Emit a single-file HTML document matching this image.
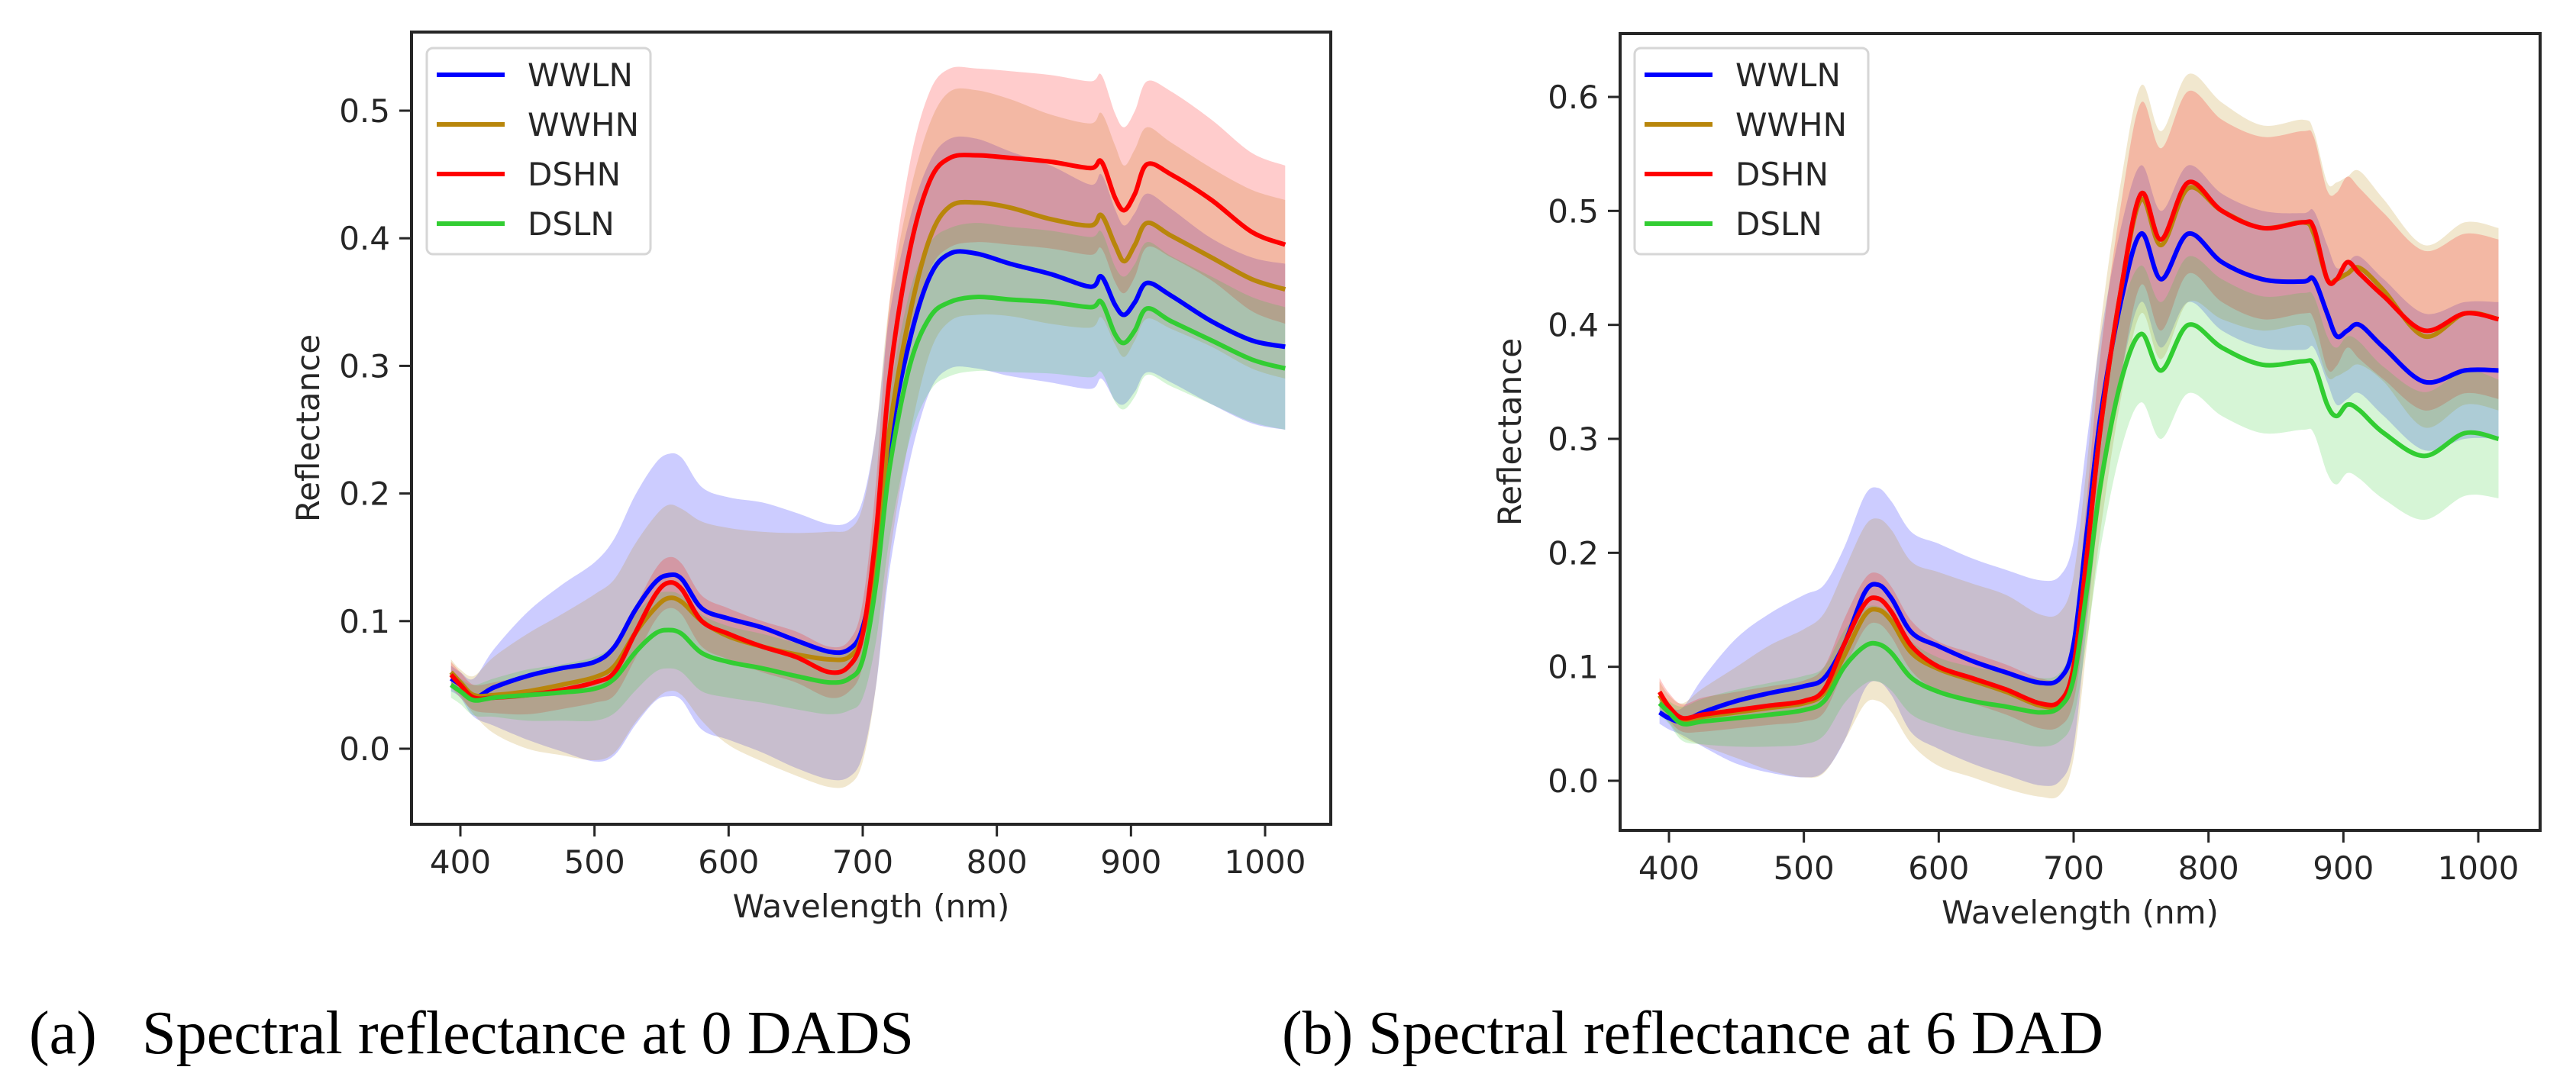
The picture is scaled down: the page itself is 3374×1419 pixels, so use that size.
<!DOCTYPE html>
<html><head><meta charset="utf-8">
<style>
body{margin:0;background:#fff;}
svg{display:block;}
text{font-family:"DejaVu Sans","Liberation Sans",sans-serif;fill:#262626;}
.cap{font-family:"Liberation Serif",serif;fill:#000;font-size:80px;}
</style></head>
<body>
<svg id="fig" width="3374" height="1419" viewBox="0 0 3374 1419" xmlns="http://www.w3.org/2000/svg">
<text class="cap" x="38" y="1380">(a)</text>
<text class="cap" x="186" y="1380" textLength="1011" lengthAdjust="spacingAndGlyphs">Spectral reflectance at 0 DADS</text>
<text class="cap" x="1679" y="1380" textLength="1076" lengthAdjust="spacingAndGlyphs">(b) Spectral reflectance at 6 DAD</text>
</svg>
<script>
const wl=[393,400,410,425,450,475,500,515,530,545,555,565,580,600,625,650,675,690,700,710,720,735,750,765,785,810,840,870,878,888,895,903,912,930,960,990,1015];
const seriesNames=["WWLN","WWHN","DSHN","DSLN"];
// Chart A (0 DADS)
const aMeanWWLN=[.055,.05,.04,.048,.057,.063,.068,.08,.108,.13,.136,.133,.11,.102,.095,.085,.076,.078,.095,.15,.24,.32,.37,.388,.388,.38,.372,.362,.37,.348,.34,.35,.365,.355,.335,.32,.315];
const aSdWWLN=[.01,.01,.015,.03,.05,.065,.078,.085,.09,.093,.095,.095,.095,.095,.098,.1,.1,.1,.1,.1,.1,.095,.09,.09,.09,.088,.085,.08,.08,.075,.07,.07,.07,.068,.065,.065,.065];
const aMeanWWHN=[.06,.052,.042,.042,.045,.05,.056,.065,.09,.11,.118,.115,.1,.088,.08,.074,.07,.072,.09,.15,.25,.34,.4,.425,.428,.424,.415,.41,.418,.395,.382,.395,.412,.402,.385,.368,.36];
const aSdWWHN=[.01,.01,.015,.03,.045,.055,.065,.068,.07,.072,.073,.073,.078,.085,.09,.095,.1,.1,.1,.1,.1,.095,.09,.09,.088,.085,.082,.08,.08,.078,.075,.075,.075,.073,.07,.07,.07];
const aMeanDSHN=[.058,.05,.04,.04,.042,.046,.052,.06,.09,.12,.13,.125,.1,.09,.08,.072,.06,.065,.09,.17,.29,.39,.445,.463,.465,.463,.46,.455,.46,.432,.422,.435,.458,.45,.43,.405,.395];
const aSdDSHN=[.01,.01,.01,.012,.015,.015,.016,.018,.02,.02,.02,.02,.02,.02,.02,.02,.02,.02,.025,.04,.06,.068,.07,.07,.068,.068,.068,.068,.068,.066,.065,.065,.065,.065,.063,.062,.062];
const aMeanDSLN=[.05,.045,.038,.04,.042,.044,.047,.055,.075,.09,.093,.09,.075,.068,.063,.057,.052,.055,.07,.13,.22,.3,.338,.35,.354,.352,.35,.346,.35,.325,.318,.328,.345,.335,.32,.305,.298];
const aSdDSLN=[.01,.01,.012,.015,.02,.022,.025,.027,.03,.03,.03,.03,.03,.028,.027,.026,.025,.025,.03,.045,.055,.058,.058,.058,.058,.057,.056,.055,.055,.053,.052,.052,.052,.051,.05,.049,.048];
// Chart B (6 DAD)
const bMeanWWLN=[.06,.055,.052,.06,.07,.077,.083,.09,.12,.165,.172,.16,.13,.118,.105,.095,.086,.09,.12,.22,.32,.42,.48,.44,.48,.455,.44,.438,.44,.41,.39,.395,.4,.38,.35,.36,.36];
const bSdWWLN=[.01,.01,.012,.03,.055,.07,.08,.082,.085,.085,.085,.085,.088,.09,.09,.09,.09,.09,.09,.08,.07,.065,.06,.06,.06,.06,.06,.06,.06,.06,.06,.06,.06,.06,.06,.06,.06];
const bMeanWWHN=[.075,.063,.053,.056,.06,.064,.068,.077,.11,.145,.15,.14,.112,.098,.088,.078,.066,.068,.1,.2,.31,.43,.51,.47,.52,.5,.485,.49,.48,.44,.44,.445,.45,.43,.39,.41,.405];
const bSdWWHN=[.012,.012,.015,.025,.04,.055,.065,.07,.075,.078,.08,.08,.08,.085,.085,.085,.08,.08,.08,.08,.09,.095,.1,.1,.1,.095,.09,.09,.09,.085,.085,.085,.085,.08,.08,.08,.08];
const bMeanDSHN=[.078,.065,.055,.058,.062,.066,.07,.08,.12,.155,.16,.148,.118,.1,.09,.08,.068,.07,.1,.2,.31,.43,.515,.475,.525,.5,.485,.49,.485,.44,.44,.455,.445,.425,.395,.41,.405];
const bSdDSHN=[.012,.012,.012,.015,.016,.017,.018,.02,.022,.022,.022,.022,.022,.022,.022,.022,.022,.022,.03,.05,.065,.075,.08,.08,.08,.08,.08,.08,.08,.078,.076,.075,.075,.073,.07,.07,.07];
const bMeanDSLN=[.068,.06,.05,.052,.055,.058,.062,.07,.1,.118,.12,.112,.09,.078,.07,.065,.06,.065,.09,.17,.26,.35,.392,.36,.4,.38,.365,.368,.365,.33,.32,.33,.325,.305,.285,.305,.3];
const bSdDSLN=[.01,.01,.015,.02,.025,.028,.03,.03,.032,.033,.033,.033,.032,.03,.03,.03,.03,.03,.035,.045,.055,.06,.06,.06,.06,.06,.06,.06,.06,.06,.06,.06,.06,.058,.056,.055,.052];
const xTicks=[400,500,600,700,800,900,1000];
const aYTicks=[0.0,0.1,0.2,0.3,0.4,0.5];
const bYTicks=[0.0,0.1,0.2,0.3,0.4,0.5,0.6];

const colors=["#0000ff","#b8860b","#ff0000","#32cd32"];
const NS="http://www.w3.org/2000/svg";
const svg=document.getElementById('fig');
function mk(tag,attrs,parent){const e=document.createElementNS(NS,tag);for(const k in attrs)e.setAttribute(k,attrs[k]);(parent||svg).appendChild(e);return e;}
function smooth(pts){let d="M"+pts[0][0].toFixed(1)+","+pts[0][1].toFixed(1);
 for(let i=0;i<pts.length-1;i++){const p0=pts[Math.max(0,i-1)],p1=pts[i],p2=pts[i+1],p3=pts[Math.min(pts.length-1,i+2)];
  const c1=[p1[0]+(p2[0]-p0[0])/6,p1[1]+(p2[1]-p0[1])/6],c2=[p2[0]-(p3[0]-p1[0])/6,p2[1]-(p3[1]-p1[1])/6];
  d+="C"+c1[0].toFixed(1)+","+c1[1].toFixed(1)+" "+c2[0].toFixed(1)+","+c2[1].toFixed(1)+" "+p2[0].toFixed(1)+","+p2[1].toFixed(1);}
 return d;}
function chart(cfg){
 const g=mk('g',{});
 
 
 const X=v=>cfg.x400+(v-400)*(cfg.x1000-cfg.x400)/600;
 const Y=v=>cfg.y0-v*(cfg.y0-cfg.yTop)/cfg.topVal;
 const fg=mk('g',{},g);
 cfg.means.forEach((m,si)=>{
  const sd=cfg.sds[si];
  const up=wl.map((w,i)=>[X(w),Y(m[i]+sd[i])]);
  const lo=wl.map((w,i)=>[X(w),Y(m[i]-sd[i])]).reverse();
  let d=smooth(up)+"L"+smooth(lo).slice(1)+"Z";
  const p=mk('path',{d:d,fill:colors[si],'fill-opacity':0.2,stroke:'none'},fg);
  
  
 });
 cfg.means.forEach((m,si)=>{
  const p=mk('path',{d:smooth(wl.map((w,i)=>[X(w),Y(m[i])])),fill:'none',stroke:colors[si],'stroke-width':6,'stroke-linejoin':'round'},g);
  
  
 });
 const fr=mk('rect',{x:cfg.L,y:cfg.T,width:cfg.R-cfg.L,height:cfg.B-cfg.T,fill:'none',stroke:'#262626','stroke-width':4},g);
 
 
 xTicks.forEach(t=>{const x=X(t);
  mk('line',{x1:x,x2:x,y1:cfg.B,y2:cfg.B+16,stroke:'#262626','stroke-width':3},g);
  const tx=mk('text',{x:x,y:cfg.B+64,'text-anchor':'middle','font-size':42},g);tx.textContent=t;
  
  });
 cfg.yTicks.forEach(t=>{const y=Y(t);
  mk('line',{x1:cfg.L-16,x2:cfg.L,y1:y,y2:y,stroke:'#262626','stroke-width':3},g);
  const tx=mk('text',{x:cfg.L-28,y:y+15,'text-anchor':'end','font-size':42},g);tx.textContent=t.toFixed(1);
  
  });
 const xl=mk('text',{x:(cfg.L+cfg.R)/2,y:cfg.B+122,'text-anchor':'middle','font-size':42},g);xl.textContent="Wavelength (nm)";
 
 
 const yl=mk('text',{x:0,y:0,'text-anchor':'middle','font-size':42,transform:`translate(${cfg.ylx},${(cfg.T+cfg.B)/2}) rotate(-90)`},g);yl.textContent="Reflectance";
 
 
 const lg=mk('g',{},g);
 
 
 mk('rect',{x:cfg.lgx,y:cfg.lgy,width:cfg.lgw,height:270,rx:8,fill:'#fff','fill-opacity':0.8,stroke:'#d6d6d6','stroke-width':3},lg);
 seriesNames.forEach((n,i)=>{const y=cfg.lgy+35+i*65;
  const le=mk('g',{},lg);
  
  
  mk('line',{x1:cfg.lgx+13,x2:cfg.lgx+102,y1:y,y2:y,stroke:colors[i],'stroke-width':6},le);
  const t=mk('text',{x:cfg.lgx+132,y:y+15,'font-size':42},le);t.textContent=n;});
}
chart({name:'chart-0-dads',L:539,R:1743,T:42,B:1080,x400:603,x1000:1657,y0:981,yTop:145,topVal:0.5,yTicks:aYTicks,
 means:[aMeanWWLN,aMeanWWHN,aMeanDSHN,aMeanDSLN],sds:[aSdWWLN,aSdWWHN,aSdDSHN,aSdDSLN],ylx:418,lgx:559,lgy:63,lgw:293});
chart({name:'chart-6-dad',L:2122,R:3327,T:44,B:1088,x400:2186,x1000:3246,y0:1023,yTop:127,topVal:0.6,yTicks:bYTicks,
 means:[bMeanWWLN,bMeanWWHN,bMeanDSHN,bMeanDSLN],sds:[bSdWWLN,bSdWWHN,bSdDSHN,bSdDSLN],ylx:1992,lgx:2141,lgy:63,lgw:306});
</script>
</body></html>
